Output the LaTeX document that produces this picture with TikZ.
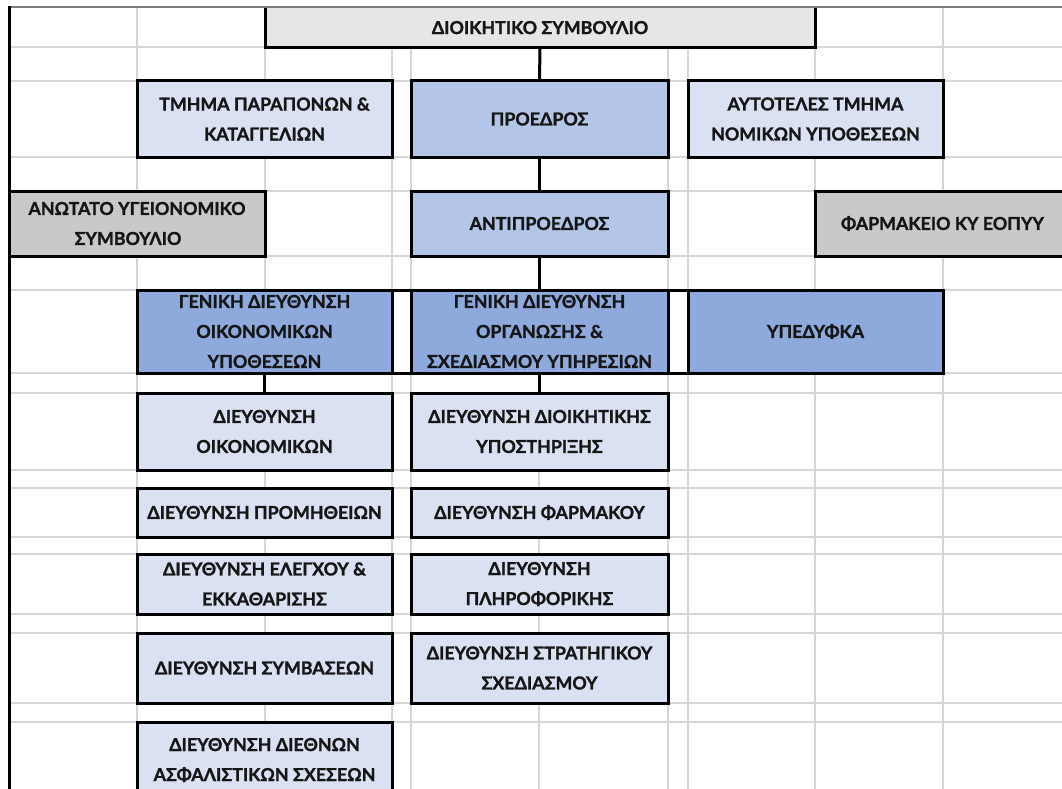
\documentclass[tikz,border=0pt]{standalone}
\usepackage{fontspec}
\IfFontExistsTF{Lato Bold}
  {\newfontfamily\boxfont{Lato Bold}[FakeBold=1.4]}
  {\newfontfamily\boxfont{Lato}[FakeBold=4]}
\definecolor{gridc}{HTML}{D6D6D6}
\definecolor{topc}{HTML}{7A7A7A}
\definecolor{dsfill}{HTML}{E7E6E6}
\definecolor{lightb}{HTML}{D9E1F2}
\definecolor{midb}{HTML}{B4C6E7}
\definecolor{darkb}{HTML}{8EA9DB}
\definecolor{grayf}{HTML}{C9C9C9}
\definecolor{txt}{HTML}{161616}
\begin{document}
\begin{tikzpicture}[x=1pt,y=-1pt,
  box/.style={draw=black, line width=3pt, inner sep=0pt, outer sep=0pt, anchor=north west,
    align=center, text=txt, font=\boxfont\fontsize{17.8}{30}\selectfont},
  conn/.style={draw=black, line width=3pt},
  gridline/.style={draw=gridc, line width=1.6pt}]
\clip (0,0) rectangle (1062,789);
\fill[white] (0,0) rectangle (1062,789);
% spreadsheet grid
\foreach \yy in {47,81,157,191,256,290,373,393,470,488,537,554,614,633,703,722}
  \draw[gridline] (9,\yy) -- (1062,\yy);
\foreach \xx in {137,265,392,411,539,668,688,815,943}
  \draw[gridline] (\xx,7) -- (\xx,789);
\draw[draw=topc, line width=1.2pt] (9,7) -- (1062,7);
\draw[conn] (9,6.4) -- (9,789);
% boxes
\node[box, draw=none, fill=dsfill, minimum width=550pt, minimum height=40pt] (ds) at (265,7.6) {ΔΙΟΙΚΗΤΙΚΟ ΣΥΜΒΟΥΛΙΟ};
\draw[conn] (ds.north west) -- (ds.south west) -- (ds.south east) -- (ds.north east);
\node[box, fill=lightb, minimum width=255pt, minimum height=76pt] (tm) at (137,81) {ΤΜΗΜΑ ΠΑΡΑΠΟΝΩΝ \&\\ΚΑΤΑΓΓΕΛΙΩΝ};
\node[box, fill=midb, minimum width=257pt, minimum height=76pt] (pr) at (411,81) {ΠΡΟΕΔΡΟΣ};
\node[box, fill=lightb, minimum width=255pt, minimum height=76pt] (au) at (688,81) {ΑΥΤΟΤΕΛΕΣ ΤΜΗΜΑ\\ΝΟΜΙΚΩΝ ΥΠΟΘΕΣΕΩΝ};
\node[box, fill=grayf, minimum width=256pt, minimum height=65pt] (an) at (9,191) {ΑΝΩΤΑΤΟ ΥΓΕΙΟΝΟΜΙΚΟ\\ΣΥΜΒΟΥΛΙΟ\hspace*{18pt}};
\node[box, fill=midb, minimum width=257pt, minimum height=65pt] (ap) at (411,191) {ΑΝΤΙΠΡΟΕΔΡΟΣ};
\node[box, fill=grayf, minimum width=255pt, minimum height=65pt] (fa) at (815,191) {ΦΑΡΜΑΚΕΙΟ ΚΥ ΕΟΠΥΥ};
\node[box, fill=darkb, minimum width=255pt, minimum height=83pt] (g1) at (137,290) {ΓΕΝΙΚΗ ΔΙΕΥΘΥΝΣΗ\\ΟΙΚΟΝΟΜΙΚΩΝ\\ΥΠΟΘΕΣΕΩΝ};
\node[box, fill=darkb, minimum width=257pt, minimum height=83pt] (g2) at (411,290) {ΓΕΝΙΚΗ ΔΙΕΥΘΥΝΣΗ\\ΟΡΓΑΝΩΣΗΣ \&\\ΣΧΕΔΙΑΣΜΟΥ ΥΠΗΡΕΣΙΩΝ};
\node[box, fill=darkb, minimum width=255pt, minimum height=83pt] (g3) at (688,290) {ΥΠΕΔΥΦΚΑ};
\node[box, fill=lightb, minimum width=255pt, minimum height=77pt] (d1) at (137,393) {ΔΙΕΥΘΥΝΣΗ\\ΟΙΚΟΝΟΜΙΚΩΝ};
\node[box, fill=lightb, minimum width=257pt, minimum height=77pt] (e1) at (411,393) {ΔΙΕΥΘΥΝΣΗ ΔΙΟΙΚΗΤΙΚΗΣ\\ΥΠΟΣΤΗΡΙΞΗΣ};
\node[box, fill=lightb, minimum width=255pt, minimum height=49pt] (d2) at (137,488) {ΔΙΕΥΘΥΝΣΗ ΠΡΟΜΗΘΕΙΩΝ};
\node[box, fill=lightb, minimum width=257pt, minimum height=49pt] (e2) at (411,488) {ΔΙΕΥΘΥΝΣΗ ΦΑΡΜΑΚΟΥ};
\node[box, fill=lightb, minimum width=255pt, minimum height=60pt] (d3) at (137,554) {ΔΙΕΥΘΥΝΣΗ ΕΛΕΓΧΟΥ \&\\ΕΚΚΑΘΑΡΙΣΗΣ};
\node[box, fill=lightb, minimum width=257pt, minimum height=60pt] (e3) at (411,554) {ΔΙΕΥΘΥΝΣΗ\\ΠΛΗΡΟΦΟΡΙΚΗΣ};
\node[box, fill=lightb, minimum width=255pt, minimum height=70pt] (d4) at (137,633) {ΔΙΕΥΘΥΝΣΗ ΣΥΜΒΑΣΕΩΝ};
\node[box, fill=lightb, minimum width=257pt, minimum height=70pt] (e4) at (411,633) {ΔΙΕΥΘΥΝΣΗ ΣΤΡΑΤΗΓΙΚΟΥ\\ΣΧΕΔΙΑΣΜΟΥ};
\node[box, fill=lightb, minimum width=255pt, minimum height=76pt] (d5) at (137,722) {ΔΙΕΥΘΥΝΣΗ ΔΙΕΘΝΩΝ\\ΑΣΦΑΛΙΣΤΙΚΩΝ ΣΧΕΣΕΩΝ};
% connectors
\draw[conn] (ds.south) -- (pr.north);
\draw[conn] (pr.south) -- (ap.north);
\draw[conn] (ap.south) -- (g2.north);
\draw[conn] (g2.south) -- (e1.north);
\draw[conn] (g1.south) -- (d1.north);
\draw[conn] (g1.north east) -- (g2.north west);
\draw[conn] (g1.south east) -- (g2.south west);
\draw[conn] (g2.north east) -- (g3.north west);
\draw[conn] (g2.south east) -- (g3.south west);
\end{tikzpicture}
\end{document}
